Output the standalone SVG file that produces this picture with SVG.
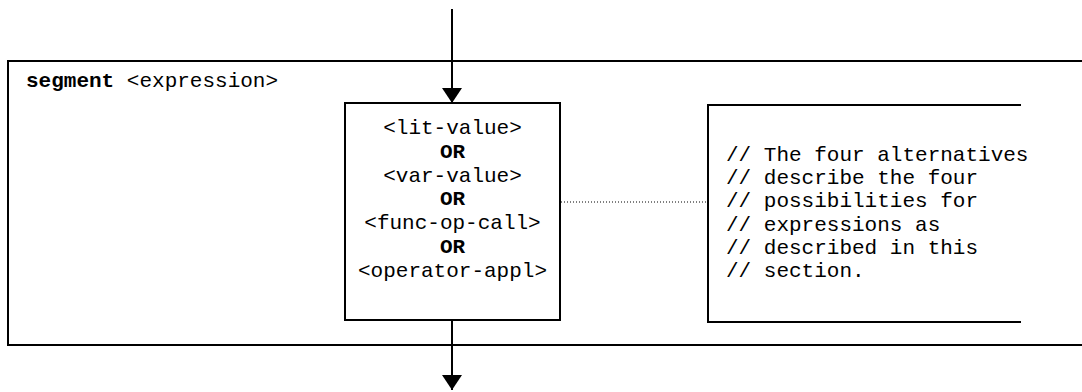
<svg xmlns="http://www.w3.org/2000/svg" width="1082" height="392" viewBox="0 0 1082 392">
<style>
text{font-family:"Liberation Mono","Courier New",monospace;font-size:21px;fill:#000}
.b{font-weight:bold}
.frame{fill:none;stroke:#000;stroke-width:2}
.line{fill:none;stroke:#000;stroke-width:2}
.dot{fill:none;stroke:#000;stroke-width:1;stroke-dasharray:1 2}
</style>
<defs>
<marker id="arr" markerUnits="userSpaceOnUse" markerWidth="16" markerHeight="20" refX="15" refY="10" orient="auto" viewBox="0 0 16 20">
<polygon points="0,0 15,10 0,20" fill="#000"/>
</marker>
</defs>
<g id="segment">
<path class="frame" d="M1090 61 H8 V345 H1090"/>
<text x="26" y="87"><tspan class="b">segment</tspan> &lt;expression&gt;</text>
</g>
<g id="expr-box">
<rect class="frame" x="345" y="103" width="215" height="217" fill="#fff"/>
<text text-anchor="middle" x="452.5" y="134">&lt;lit-value&gt;</text>
<text text-anchor="middle" x="452.5" y="158" class="b">OR</text>
<text text-anchor="middle" x="452.5" y="182">&lt;var-value&gt;</text>
<text text-anchor="middle" x="452.5" y="205" class="b">OR</text>
<text text-anchor="middle" x="452.5" y="229">&lt;func-op-call&gt;</text>
<text text-anchor="middle" x="452.5" y="253" class="b">OR</text>
<text text-anchor="middle" x="452.5" y="277">&lt;operator-appl&gt;</text>
</g>
<g id="comment">
<path class="frame" d="M1021 105 H708 V322 H1021"/>
<text x="726" y="161">// The four alternatives</text>
<text x="726" y="184">// describe the four</text>
<text x="726" y="207">// possibilities for</text>
<text x="726" y="231">// expressions as</text>
<text x="726" y="254">// described in this</text>
<text x="726" y="277">// section.</text>
</g>
<g id="connectors">
<line class="line" x1="452" y1="9" x2="452" y2="103" marker-end="url(#arr)"/>
<line class="line" x1="452" y1="320" x2="452" y2="390" marker-end="url(#arr)"/>
<line class="dot" x1="561" y1="202" x2="708" y2="202"/>
</g>
</svg>
